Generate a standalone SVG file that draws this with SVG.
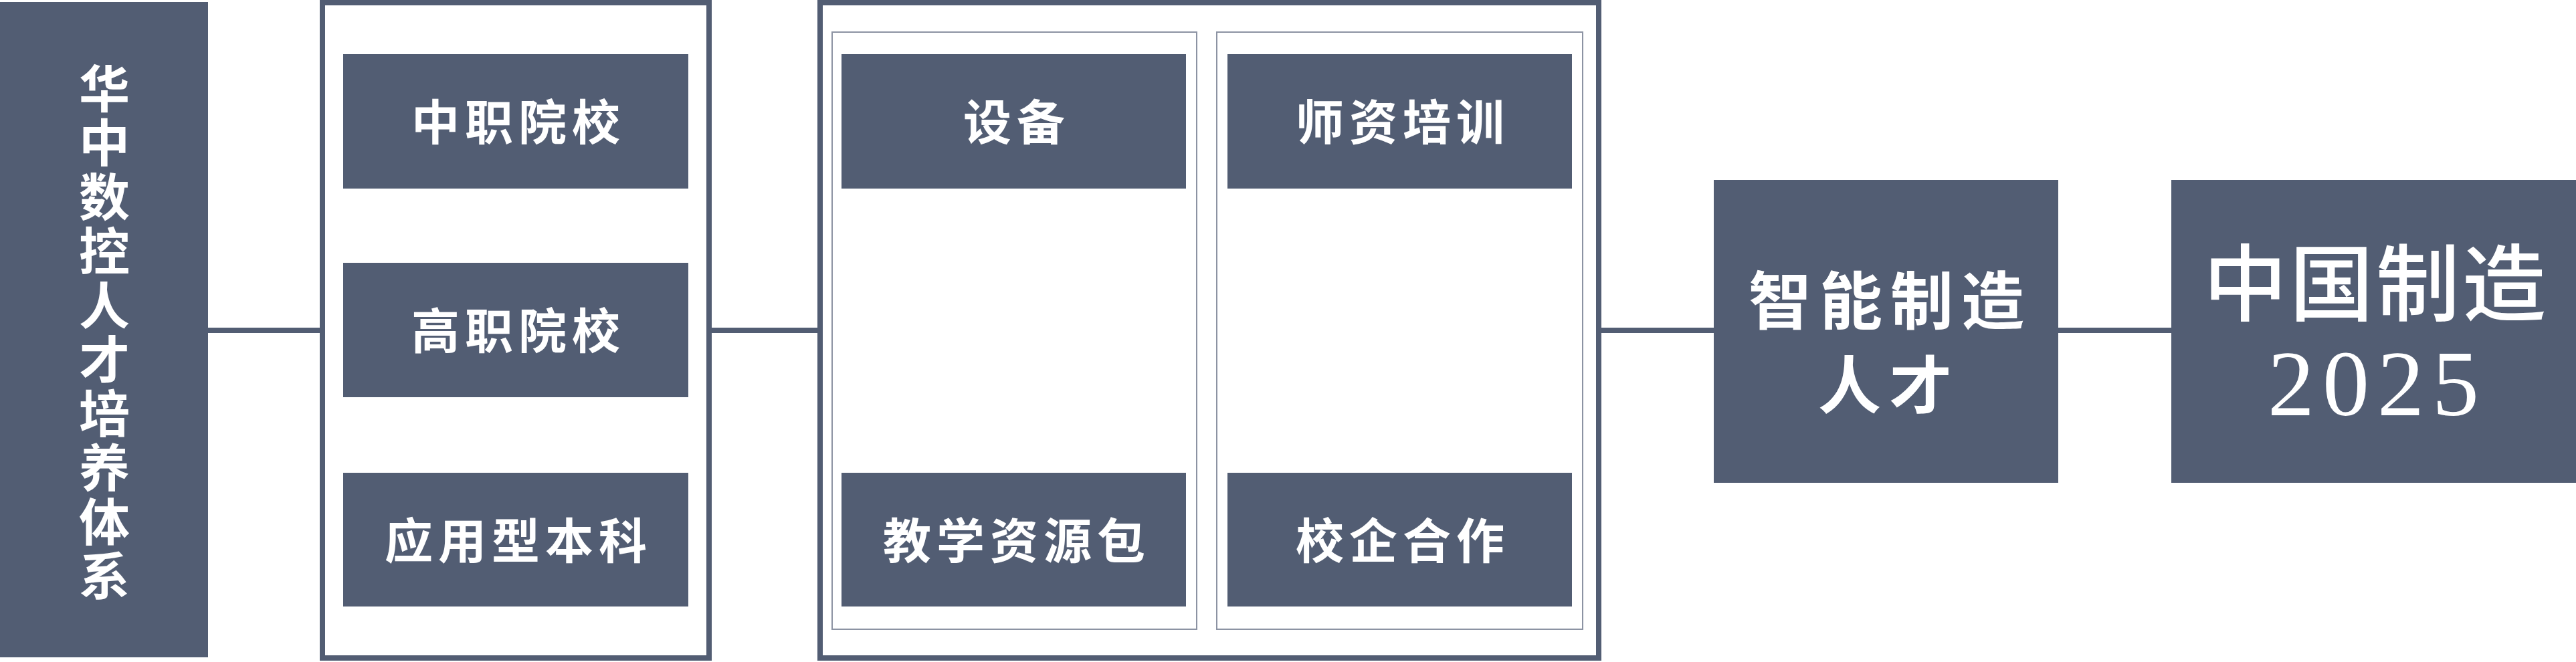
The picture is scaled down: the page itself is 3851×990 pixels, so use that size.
<svg xmlns="http://www.w3.org/2000/svg" width="3851" height="990" viewBox="0 0 3851 990">
<style>
.dark{fill:#525d73;}
.frame{fill:none;stroke:#525d73;stroke-width:8;}
.thin{fill:none;stroke:#8c93a3;stroke-width:2;}
.conn{stroke:#525d73;stroke-width:8;fill:none;}
.lbl{fill:#ffffff;font-family:"Noto Sans CJK SC","Noto Sans",sans-serif;font-weight:700;text-anchor:middle;}
.vert{font-size:76px;}
.mid{font-size:72px;letter-spacing:8px;}
.big{font-size:94px;letter-spacing:12px;}
.cn{font-size:125px;font-weight:500;letter-spacing:4px;}
.yr{fill:#ffffff;font-family:"Liberation Serif",serif;font-size:140px;letter-spacing:12px;text-anchor:middle;}
</style>
<rect x="0" y="0" width="3851" height="990" fill="#ffffff"/>
<g id="connectors">
<line class="conn" x1="311" y1="494" x2="480" y2="494"/>
<line class="conn" x1="1062" y1="494" x2="1224" y2="494"/>
<line class="conn" x1="2392" y1="494" x2="2562" y2="494"/>
<line class="conn" x1="3077" y1="494" x2="3246" y2="494"/>
</g>
<g id="system">
<rect class="dark" x="0" y="3" width="311" height="980"/>
<text class="lbl vert"><tspan x="156" y="161">华</tspan><tspan x="156" y="242">中</tspan><tspan x="156" y="323">数</tspan><tspan x="156" y="404">控</tspan><tspan x="156" y="485">人</tspan><tspan x="156" y="566">才</tspan><tspan x="156" y="647">培</tspan><tspan x="156" y="728">养</tspan><tspan x="156" y="809">体</tspan><tspan x="156" y="890">系</tspan></text>
</g>
<g id="schools">
<rect class="frame" x="482" y="4" width="578" height="980"/>
<g id="zhongzhi">
<rect class="dark" x="513" y="81" width="516" height="201"/>
<text class="lbl mid" x="775" y="209">中职院校</text>
</g>
<g id="gaozhi">
<rect class="dark" x="513" y="393" width="516" height="201"/>
<text class="lbl mid" x="775" y="521">高职院校</text>
</g>
<g id="benke">
<rect class="dark" x="513" y="707" width="516" height="200"/>
<text class="lbl mid" x="775" y="835">应用型本科</text>
</g>
</g>
<g id="resources">
<rect class="frame" x="1226" y="4" width="1164" height="980"/>
<rect class="thin" x="1244" y="48" width="545" height="893"/>
<rect class="thin" x="1819" y="48" width="547" height="893"/>
<g id="shebei">
<rect class="dark" x="1258" y="81" width="515" height="201"/>
<text class="lbl mid" x="1520" y="209">设备</text>
</g>
<g id="shizi">
<rect class="dark" x="1835" y="81" width="515" height="201"/>
<text class="lbl mid" x="2097" y="209">师资培训</text>
</g>
<g id="jiaoxue">
<rect class="dark" x="1258" y="707" width="515" height="200"/>
<text class="lbl mid" x="1520" y="835">教学资源包</text>
</g>
<g id="xiaoqi">
<rect class="dark" x="1835" y="707" width="515" height="200"/>
<text class="lbl mid" x="2097" y="835">校企合作</text>
</g>
</g>
<g id="talent">
<rect class="dark" x="2562" y="269" width="515" height="453"/>
<text class="lbl big" x="2826" y="485">智能制造</text>
<text class="lbl big" x="2824" y="611">人才</text>
</g>
<g id="china2025">
<rect class="dark" x="3246" y="269" width="605" height="453"/>
<text class="lbl cn" x="3552" y="470">中国制造</text>
<text class="yr" x="3554" y="621">2025</text>
</g>
</svg>
